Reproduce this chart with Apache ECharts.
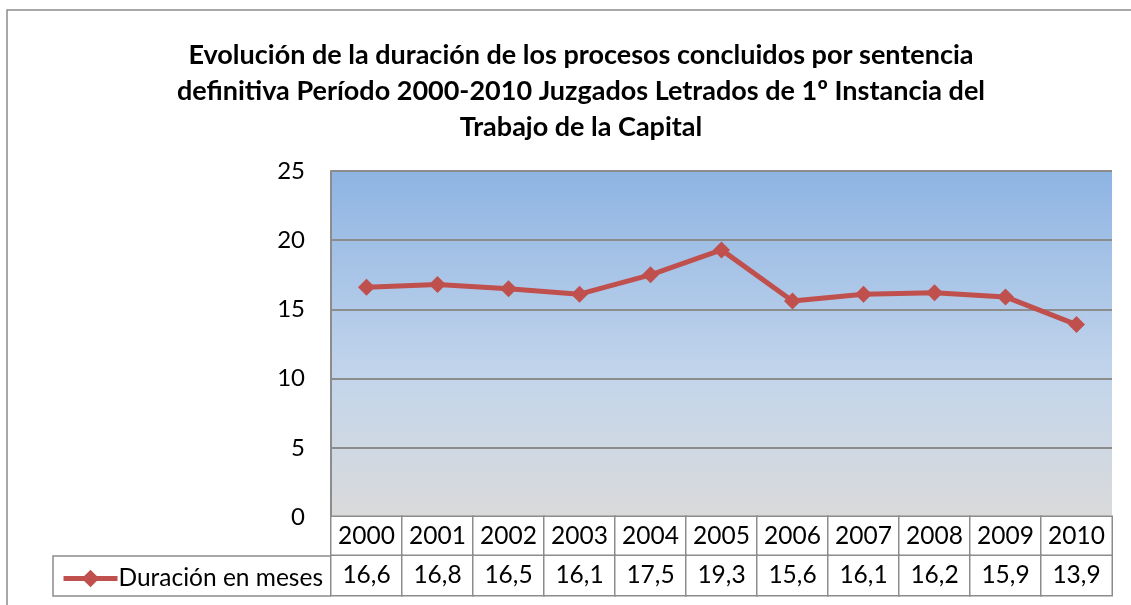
<!DOCTYPE html>
<html>
<head>
<meta charset="utf-8">
<script src="https://cdn.jsdelivr.net/npm/echarts@6/dist/echarts.min.js"></script>
<style>
  html, body { margin: 0; padding: 0; background: #fff; }
  #chart { width: 1131px; height: 605px; }
</style>
</head>
<body>
<div id="chart"></div>
<script>
  const years = ['2000', '2001', '2002', '2003', '2004', '2005', '2006', '2007', '2008', '2009', '2010'];
  const duracion = [16.6, 16.8, 16.5, 16.1, 17.5, 19.3, 15.6, 16.1, 16.2, 15.9, 13.9];
  const seriesName = 'Duración en meses';
  const yTicks = [0, 5, 10, 15, 20, 25];

  const FONT = 'Lato, "Open Sans", sans-serif';
  const GRID_LEFT = 331, GRID_RIGHT = 1112, GRID_TOP = 171, GRID_BOTTOM = 517;
  const colW = (GRID_RIGHT - GRID_LEFT) / years.length;
  const rowH = 39;
  const comma = v => v.toFixed(1).replace('.', ',');

  const chart = echarts.init(document.getElementById('chart'));

  const cellLabel = {
    margin: 0,
    fontFamily: FONT,
    fontSize: 24.5,
    color: '#000',
    width: colW - 1,
    height: rowH,
    lineHeight: rowH,
    align: 'center',
    verticalAlign: 'top',
    borderColor: '#8c8c8c',
    borderWidth: 1.5,
    backgroundColor: '#fff',
    interval: 0
  };

  const option = {
    backgroundColor: '#fff',
    animation: false,
    title: {
      text: 'Evolución de la duración de los procesos concluidos por sentencia\ndefinitiva Período 2000-2010 Juzgados Letrados de 1º Instancia del\nTrabajo de la Capital',
      left: 576,
      textAlign: 'center',
      top: 32,
      textStyle: {
        fontFamily: FONT,
        fontWeight: 'bold',
        fontSize: 27,
        lineHeight: 36,
        color: '#000'
      }
    },
    legend: {
      show: true,
      left: 56,
      top: 561,
      itemWidth: 54,
      itemHeight: 22,
      itemGap: 0,
      lineStyle: { width: 5 },
      textStyle: { fontFamily: FONT, fontSize: 24.5, color: '#000', padding: [0, 0, 0, -4] },
      data: [seriesName]
    },
    grid: {
      left: GRID_LEFT,
      right: 1131 - GRID_RIGHT,
      top: GRID_TOP,
      bottom: 605 - GRID_BOTTOM,
      show: true,
      borderWidth: 0,
      backgroundColor: {
        type: 'linear', x: 0, y: 0, x2: 0, y2: 1,
        colorStops: [
          { offset: 0, color: '#8EB4E3' },
          { offset: 0.6, color: '#C3D5EB' },
          { offset: 1, color: '#DADADA' }
        ]
      }
    },
    xAxis: [
      {
        type: 'category',
        data: years,
        position: 'bottom',
        axisLine: { show: true, lineStyle: { color: '#8c8c8c', width: 2 } },
        axisTick: { show: false },
        axisLabel: cellLabel
      },
      {
        type: 'category',
        data: duracion.map(comma),
        position: 'bottom',
        offset: rowH,
        axisLine: { show: false },
        axisTick: { show: false },
        axisLabel: cellLabel
      }
    ],
    yAxis: {
      type: 'value',
      min: yTicks[0],
      max: yTicks[yTicks.length - 1],
      interval: 5,
      axisLine: { show: true, lineStyle: { color: '#8c8c8c', width: 2 } },
      axisTick: { show: false },
      axisLabel: { fontFamily: FONT, fontSize: 24, color: '#000', margin: 26 },
      splitLine: { lineStyle: { color: '#8c8c8c', width: 2 } }
    },
    graphic: [
      {
        type: 'polyline',
        shape: { points: [[7, 605], [7, 10], [1131, 10]] },
        style: { stroke: '#8c8c8c', lineWidth: 1.5, fill: null },
        silent: true
      },
      {
        type: 'polyline',
        shape: { points: [[GRID_LEFT, GRID_BOTTOM + rowH], [53, GRID_BOTTOM + rowH], [53, GRID_BOTTOM + 2 * rowH + 1], [GRID_LEFT, GRID_BOTTOM + 2 * rowH + 1]] },
        style: { stroke: '#8c8c8c', lineWidth: 1.5, fill: null },
        silent: true
      }
    ],
    series: [
      {
        name: seriesName,
        type: 'line',
        data: duracion,
        xAxisIndex: 0,
        symbol: 'diamond',
        symbolSize: 17,
        color: '#C0504D',
        lineStyle: { color: '#C0504D', width: 5 },
        itemStyle: { color: '#C0504D' }
      }
    ]
  };

  chart.setOption(option);
</script>
</body>
</html>
